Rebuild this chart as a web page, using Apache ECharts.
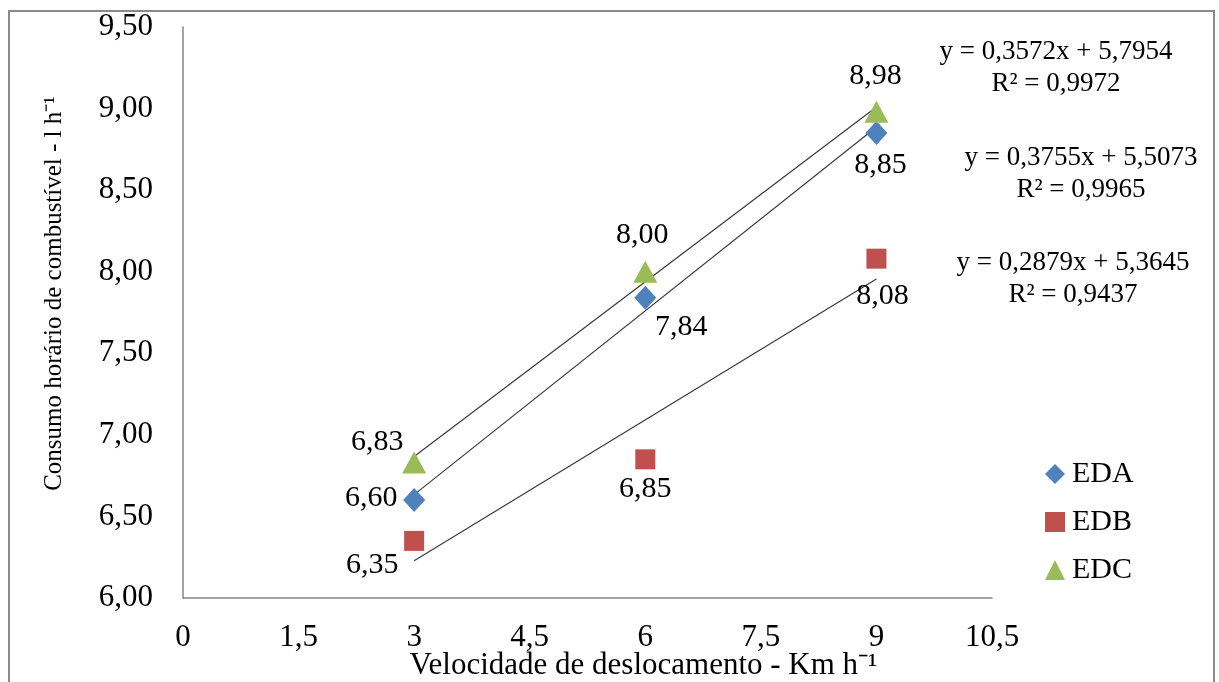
<!DOCTYPE html>
<html>
<head>
<meta charset="utf-8">
<script src="https://cdn.jsdelivr.net/npm/echarts@6/dist/echarts.min.js"></script>
<style>
html,body{margin:0;padding:0;background:#fff;}
#chart{width:1219px;height:682px;}
</style>
</head>
<body>
<div id="chart"></div>
<script>
// ---- data ----
const seriesNames = ['EDA', 'EDB', 'EDC'];
const xValues = [3, 6, 9];
const edaValues = [6.60, 7.84, 8.85];
const edbValues = [6.35, 6.85, 8.08];
const edcValues = [6.83, 8.00, 8.98];
const trendSlopes = [0.3755, 0.2879, 0.3572];
const trendIntercepts = [5.5073, 5.3645, 5.7954];
const trendR2 = [0.9965, 0.9437, 0.9972];
const xTicks = [0, 1.5, 3, 4.5, 6, 7.5, 9, 10.5];
const yTicks = [6.00, 6.50, 7.00, 7.50, 8.00, 8.50, 9.00, 9.50];
const xAxisTitle = 'Velocidade de deslocamento - Km h\u207B\u00B9';
const yAxisTitle = 'Consumo horário de combustível - l h\u207B\u00B9';

// ---- styling ----
const FONT = '"Liberation Serif", "Times New Roman", serif';
const colors = ['#4F81BD', '#C0504D', '#9BBB59'];
const symbols = ['diamond', 'rect', 'triangle'];
const symbolSizes = [[22, 24], [20, 20], [24, 22]];
const labelOffsets = [
  [[-43, -2], [36, 29], [4, 32]],
  [[-42, 24], [0, 30], [6, 37]],
  [[-37, -20], [-3, -37], [-1, -36]]
];
const eqPositions = [ // center positions of equation text blocks (EDA, EDB, EDC)
  [1081, 174], [1073, 279], [1056, 68]
];

const allValues = [edaValues, edbValues, edcValues];
const fmt = (v, d) => v.toFixed(d).replace('.', ',');

const series = [];
seriesNames.forEach((name, i) => {
  const data = xValues.map((x, j) => ({
    value: [x, allValues[i][j]],
    label: { offset: labelOffsets[i][j] }
  }));
  series.push({
    name: name,
    type: 'scatter',
    symbol: symbols[i],
    symbolSize: symbolSizes[i],
    itemStyle: { color: colors[i], opacity: 1 },
    z: 3,
    label: {
      show: true,
      position: 'inside',
      formatter: p => fmt(p.value[1], 2),
      color: '#000',
      fontFamily: FONT,
      fontSize: 30
    },
    data: data
  });
});
// linear trendlines (from Excel's fitted equations)
seriesNames.forEach((name, i) => {
  const x0 = xValues[0], x1 = xValues[xValues.length - 1];
  series.push({
    name: name + ' trend',
    type: 'line',
    symbol: 'none',
    silent: true,
    z: 2,
    lineStyle: { color: '#3a3a3a', width: 1.2 },
    data: [[x0, trendIntercepts[i] + trendSlopes[i] * x0], [x1, trendIntercepts[i] + trendSlopes[i] * x1]]
  });
});

const graphics = [{
  type: 'rect',
  shape: { x: 9, y: 11, width: 1205, height: 700 },
  style: { fill: 'none', stroke: '#8a8a8a', lineWidth: 2 },
  silent: true
}];
seriesNames.forEach((name, i) => {
  graphics.push({
    type: 'text',
    x: eqPositions[i][0],
    y: eqPositions[i][1],
    style: {
      text: 'y = ' + fmt(trendSlopes[i], 4) + 'x + ' + fmt(trendIntercepts[i], 4) + '\nR² = ' + fmt(trendR2[i], 4),
      font: '27px ' + FONT,
      fill: '#000',
      align: 'center',
      verticalAlign: 'middle',
      lineHeight: 32
    }
  });
});

const chart = echarts.init(document.getElementById('chart'));
chart.setOption({
  animation: false,
  backgroundColor: '#fff',
  grid: { left: 183, right: 227, top: 27, bottom: 84, containLabel: false, outerBoundsMode: 'none' },
  xAxis: {
    type: 'value',
    min: xTicks[0],
    max: xTicks[xTicks.length - 1],
    interval: xTicks[1] - xTicks[0],
    axisLine: { show: true, onZero: false, lineStyle: { color: '#868686', width: 1.5 } },
    axisTick: { show: false },
    splitLine: { show: false },
    axisLabel: { color: '#000', fontFamily: FONT, fontSize: 31, margin: 24, formatter: v => String(v).replace('.', ',') },
    name: xAxisTitle,
    nameLocation: 'middle',
    nameMoveOverlap: false,
    nameGap: 52,
    nameTextStyle: { color: '#000', fontFamily: FONT, fontSize: 31, padding: [0, 0, 0, 112] }
  },
  yAxis: {
    type: 'value',
    min: yTicks[0],
    max: yTicks[yTicks.length - 1],
    interval: yTicks[1] - yTicks[0],
    axisLine: { show: true, onZero: false, lineStyle: { color: '#868686', width: 1.5 } },
    axisTick: { show: false },
    splitLine: { show: false },
    axisLabel: { color: '#000', fontFamily: FONT, fontSize: 31, margin: 30, formatter: v => fmt(v, 2) },
    name: yAxisTitle,
    nameLocation: 'middle',
    nameGap: 116,
    nameTextStyle: { color: '#000', fontFamily: FONT, fontSize: 25, padding: [0, 0, 0, 38] }
  },
  legend: {
    data: seriesNames.map((n, i) => ({ name: n, icon: symbols[i] })),
    orient: 'vertical',
    left: 1040,
    top: 454,
    itemWidth: 20,
    itemHeight: 20,
    itemGap: 18,
    textStyle: { color: '#000', fontFamily: FONT, fontSize: 30, padding: [0, 0, 0, 2] }
  },
  graphic: graphics,
  series: series
});
</script>
</body>
</html>
